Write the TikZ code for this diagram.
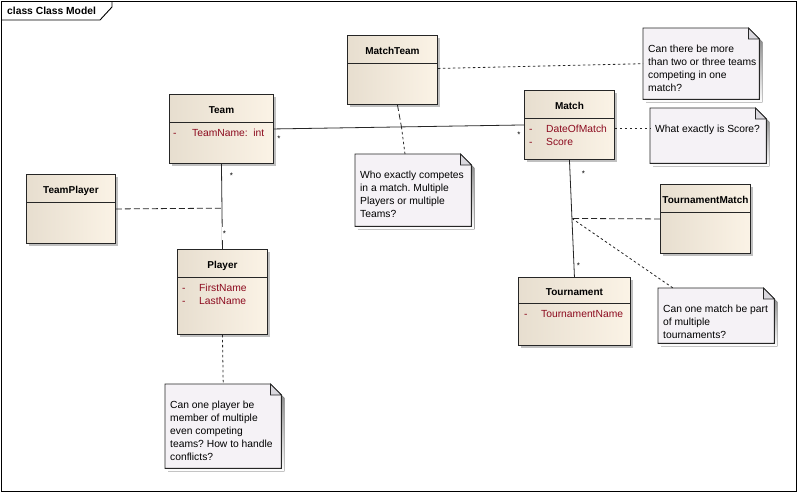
\documentclass[tikz,border=0pt]{standalone}
\usepackage{fontspec}
\setmainfont{Liberation Sans}
\usetikzlibrary{shadows,calc}
\frenchspacing

\definecolor{clsleft}{RGB}{231,222,207}
\definecolor{clsright}{RGB}{251,243,230}
\definecolor{shade}{RGB}{192,192,192}
\definecolor{notefill}{RGB}{245,242,246}
\definecolor{foldgray}{RGB}{218,216,222}
\definecolor{attrred}{RGB}{140,10,30}

\begin{document}
\begin{tikzpicture}[
		x=1pt, y=-1pt,
		every node/.style={font=\fontsize{10.3}{13}\selectfont, inner sep=0pt},
		umlclass/.style={
			draw=black!85, line width=0.9pt, anchor=north west,
			left color=clsleft, right color=clsright,
			drop shadow={shadow xshift=3pt, shadow yshift=-3pt, fill=shade, opacity=1},
		},
		ctitle/.style={font=\fontsize{10}{12}\selectfont\bfseries, text height=7.2pt, text depth=0pt},
		attr/.style={anchor=north west, align=left, text=attrred},
		notebox/.style={anchor=north west},
		notetext/.style={anchor=north west, align=left},
		divider/.style={draw=black!85, line width=0.9pt},
		assoc/.style={draw=black!85, line width=0.8pt},
		assocls/.style={draw=black!85, line width=0.8pt, dash pattern=on 6pt off 3pt},
		noteline/.style={draw=black!85, line width=0.8pt, dash pattern=on 2.5pt off 2.5pt},
		mult/.style={font=\fontsize{8}{8}\selectfont, fill=white, inner sep=0.8pt},
		]
		
		\useasboundingbox (0,0) rectangle (798,493);
		
		% frame
		\draw[line width=1pt] (1.5,1.5) rectangle (796.5,491.5);
		\draw[line width=0.9pt] (112,1.5) -- (112,7) -- (100,20) -- (1.5,20);
		\node[anchor=base west, font=\fontsize{10.3}{12}\selectfont\bfseries] (frameT) at (7,14.7) {class Class Model};
		
		% classes
		\node[umlclass, minimum width=104pt, minimum height=69pt] (team)       at (169,94)  {};
		\node[umlclass, minimum width=90pt,  minimum height=69pt] (matchteam)  at (347,35)  {};
		\node[umlclass, minimum width=90pt,  minimum height=69pt] (match)      at (524,90)  {};
		\node[umlclass, minimum width=89pt,  minimum height=69pt] (teamplayer) at (26,174)  {};
		\node[umlclass, minimum width=90pt,  minimum height=85pt] (player)     at (177,249) {};
		\node[umlclass, minimum width=90pt,  minimum height=69pt] (tournmatch) at (660,184) {};
		\node[umlclass, minimum width=112pt, minimum height=68pt] (tournament) at (518,277) {};
		
		\foreach \c/\h/\t in {team/28/Team, matchteam/28/MatchTeam, match/28/Match,
			teamplayer/28/TeamPlayer, player/28/Player, tournmatch/28/TournamentMatch,
			tournament/26/Tournament} {
			\draw[divider] ([yshift=-\h pt]\c.north west) -- ([yshift=-\h pt]\c.north east);
			\node[ctitle] (\c-t) at ([yshift={-\h/2-1.5}]\c.north) {\t};
		}
		
		% attributes
		\node[attr] (teamA)       at (173,128.6) {\makebox[19pt][l]{-}TeamName:~~int};
		\node[attr] (matchA)      at (529,124.6) {\makebox[17pt][l]{-}DateOfMatch\\\makebox[17pt][l]{-}Score};
		\node[attr] (playerA)     at (182,283.6) {\makebox[17pt][l]{-}FirstName\\\makebox[17pt][l]{-}LastName};
		\node[attr] (tournamentA) at (524,310.6) {\makebox[17pt][l]{-}TournamentName};
		
		% notes
		\node[notebox, minimum width=116pt, minimum height=72pt] (whoNote)    at (355,154) {};
		\node[notebox, minimum width=116pt, minimum height=71pt] (moreNote)   at (643,28)  {};
		\node[notebox, minimum width=116pt, minimum height=55pt] (scoreNote)  at (650,108) {};
		\node[notebox, minimum width=116pt, minimum height=55pt] (partNote)   at (658,288) {};
		\node[notebox, minimum width=116pt, minimum height=84pt] (playerNote) at (165,384) {};
		
		\foreach \nt in {whoNote, moreNote, scoreNote, partNote, playerNote} {
			\fill[shade, transform canvas={xshift=3pt, yshift=-3pt}]
			(\nt.north west) -- ([xshift=-11pt]\nt.north east) -- ([yshift=-11pt]\nt.north east)
			-- (\nt.south east) -- (\nt.south west) -- cycle;
			\filldraw[fill=notefill, draw=black!85, line width=0.9pt]
			(\nt.north west) -- ([xshift=-11pt]\nt.north east) -- ([yshift=-11pt]\nt.north east)
			-- (\nt.south east) -- (\nt.south west) -- cycle;
			\filldraw[fill=foldgray, draw=black!85, line width=0.7pt]
			([xshift=-11pt]\nt.north east) -- ([xshift=-11pt, yshift=-11pt]\nt.north east)
			-- ([yshift=-11pt]\nt.north east) -- cycle;
		}
		
		\node[notetext] (whoText)    at (360,170.9) {Who exactly competes\\in a match. Multiple\\Players or multiple\\Teams?};
		\node[notetext] (moreText)   at (648,44.9)  {Can there be more\\than two or three teams\\competing in one\\match?};
		\node[notetext] (scoreText)  at (655,124.9) {What exactly is Score?};
		\node[notetext] (partText)   at (663,304.9) {Can one match be part\\of multiple\\tournaments?};
		\node[notetext] (playerText) at (170,400.9) {Can one player be\\member of multiple\\even competing\\teams? How to handle\\conflicts?};
		
		% associations
		\draw[assoc] (team.east)  -- coordinate[pos=0.51] (mtMid) (match.west);
		\draw[assoc] (team.south) -- coordinate[pos=0.52] (tpMid) (player.north);
		\draw[assoc] (match.south) -- coordinate[pos=0.5] (tmMid) (tournament.north);
		
		\draw[assocls] ([xshift=5pt]matchteam.south) -- (mtMid);
		\draw[assocls] (teamplayer.east) -- (tpMid);
		\draw[assocls] (tournmatch.west) -- (tmMid);
		
		% note links
		\coordinate (scoreLink) at ([yshift=-3.5pt]match.east);
		\draw[noteline] (mtMid) -- ([xshift=50pt]whoNote.north west);
		\draw[noteline] ([yshift=1.5pt]matchteam.east) -- (moreNote.west);
		\draw[noteline] (scoreLink) -- (scoreNote.west |- scoreLink);
		\draw[noteline] (tmMid) -- ([xshift=15pt]partNote.north west);
		\draw[noteline] (player.south) -- (playerNote.north);
		
		% multiplicities
		\node[mult] (m1) at ([xshift=5pt, yshift=-9.5pt]team.east) {*};
		\node[mult] (m2) at ([xshift=-5pt, yshift=-10pt]match.west) {*};
		\node[mult] (m3) at ([xshift=10pt, yshift=-11.5pt]team.south) {*};
		\node[mult, minimum height=13pt] (m4) at ([xshift=2pt, yshift=15.5pt]player.north) {*};
		\node[mult] (m5) at ([xshift=14pt, yshift=-13.5pt]match.south) {*};
		\node[mult] (m6) at ([xshift=4pt, yshift=11.5pt]tournament.north) {*};
		
	\end{tikzpicture}
\end{document}
